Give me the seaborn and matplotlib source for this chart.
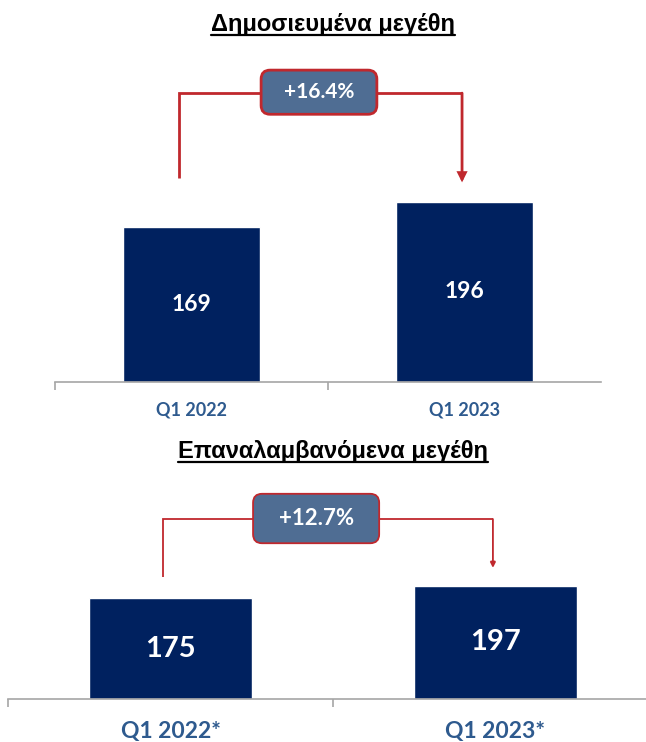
import matplotlib
matplotlib.use("Agg")
import matplotlib.pyplot as plt
import seaborn as sns
import pandas as pd
from matplotlib.patches import FancyBboxPatch
from matplotlib.lines import Line2D

sns.set_theme(style="white")
plt.rcParams['font.family'] = ['Lato', 'DejaVu Sans']

# ---- data ----
titles = ["Δημοσιευμένα μεγέθη", "Επαναλαμβανόμενα μεγέθη"]
cats_top = ["Q1 2022", "Q1 2023"]
vals_top = [169, 196]
cats_bot = ["Q1 2022*", "Q1 2023*"]
vals_bot = [175, 197]
changes = ["+16.4%", "+12.7%"]

NAVY = "#00215F"
TICKC = "#2E5A8E"
RED = "#C0282D"
BOXC = "#4F6D93"
W, H = 646, 742
fig = plt.figure(figsize=(W / 100, H / 100), dpi=100)


def px_axes(x0, x1, y0, y1):
    return fig.add_axes([x0 / W, (H - y1) / H, (x1 - x0) / W, (y1 - y0) / H])


def panel(ax, cats, vals, ylim, xlim, lab_fs, tick_fs, tick_pad, conn, box, chg, lw, box_fs, head):
    df = pd.DataFrame({"cat": cats, "val": vals})
    sns.barplot(data=df, x="cat", y="val", color=NAVY, width=0.5, saturation=1, ax=ax)
    ax.set_xlim(*xlim)
    ax.set_ylim(*ylim)
    ax.set_xlabel("")
    ax.set_ylabel("")
    ax.set_yticks([])
    for s in ["top", "right", "left"]:
        ax.spines[s].set_visible(False)
    ax.spines["bottom"].set_color("#A6A6A6")
    ax.spines["bottom"].set_linewidth(1.2)
    ax.set_xticks([0, 1])
    ax.set_xticklabels(cats, fontsize=tick_fs, fontweight="bold", color=TICKC)
    ax.tick_params(axis="x", which="major", length=0, pad=tick_pad)
    ax.set_xticks([-0.5, 0.5], minor=True)
    ax.tick_params(axis="x", which="minor", bottom=True, length=6, width=1.2,
                   color="#A6A6A6", direction="out")
    for i, v in enumerate(vals):
        ax.text(i, v / 2, str(v), ha="center", va="center", color="white",
                fontsize=lab_fs, fontweight="bold")
    # connector
    xl, yl0, yh, xr, yr1 = conn
    bx0, bx1, by0, by1 = box
    ax.plot([xl, xl, bx0], [yl0, yh, yh], color=RED, lw=lw, solid_capstyle="butt",
            solid_joinstyle="miter", zorder=3)
    ax.plot([bx1, xr], [yh, yh], color=RED, lw=lw, solid_capstyle="butt", zorder=3)
    ax.annotate("", xy=(xr, yr1), xytext=(xr, yh),
                arrowprops=dict(arrowstyle="-|>", color=RED, lw=lw, mutation_scale=head,
                                shrinkA=0, shrinkB=0, joinstyle="miter"), zorder=3)
    # box
    bb = ax.get_window_extent()
    xpu = bb.width / (xlim[1] - xlim[0])
    ypu = bb.height / (ylim[1] - ylim[0])
    aspect = xpu / ypu
    r = 9 / xpu
    p = FancyBboxPatch((bx0, by0), bx1 - bx0, by1 - by0,
                       boxstyle=f"round,pad=0,rounding_size={r}", mutation_aspect=aspect,
                       fc=BOXC, ec=RED, lw=lw, zorder=4)
    ax.add_patch(p)
    ax.text((bx0 + bx1) / 2, (by0 + by1) / 2, chg, ha="center", va="center",
            color="white", fontsize=box_fs, fontweight="bold", zorder=5)


ax1 = px_axes(55, 601, 60, 382)
panel(ax1, cats_top, vals_top, (0, 350), (-0.5, 1.5), 16.5, 13, 14,
      (-0.046, 222, 314, 0.991, 217), (0.255, 0.679, 291, 339), changes[0], 2.0, 15, 12)

ax2 = px_axes(8, 646, 480, 699)
panel(ax2, cats_bot, vals_bot, (0, 381), (-0.5, 1.463), 21, 16.5, 16,
      (-0.023, 212, 313, 0.992, 228), (0.254, 0.642, 271, 357), changes[1], 1.3, 16, 8)

# titles with underline
fig.canvas.draw()
renderer = fig.canvas.get_renderer()
for t, (cx, cy) in zip(titles, [(333, 24), (333, 452)]):
    txt = fig.text(cx / W, 1 - cy / H, t, ha="center", va="center", fontsize=17,
                   fontweight="bold", family=["Liberation Sans", "DejaVu Sans"], color="black")
    e = txt.get_window_extent(renderer)
    yline = (e.y0 + 1) / H
    fig.add_artist(Line2D([e.x0 / W, e.x1 / W], [yline, yline], color="black", lw=1.6,
                          transform=fig.transFigure))

fig.savefig("out.png", dpi=100)
